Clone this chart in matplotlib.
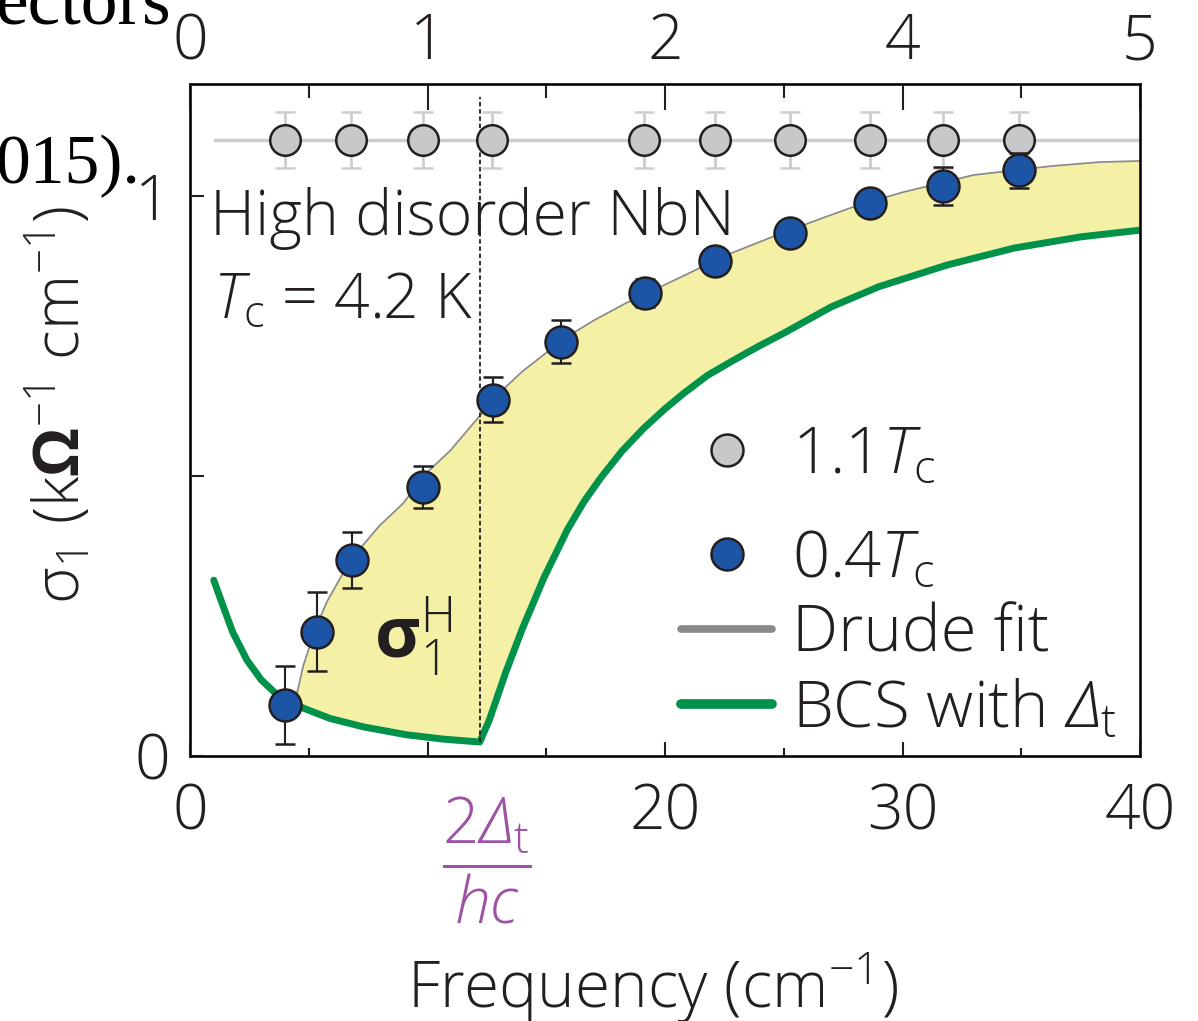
import numpy as np
import matplotlib
matplotlib.use("Agg")
import matplotlib.pyplot as plt
from matplotlib.lines import Line2D

# 0.4 Tc (superconducting) data points
freq_sc = [4.0, 5.33, 6.81, 9.82, 12.74, 15.62, 19.16, 22.1, 25.26, 28.63, 31.72, 34.92]
sigma_sc = [0.091, 0.222, 0.35, 0.48, 0.636, 0.74, 0.826, 0.884, 0.934, 0.987, 1.018, 1.046]
err_sc = [0.069, 0.07, 0.05, 0.038, 0.04, 0.039, 0.025, 0.015, 0.01, 0.01, 0.034, 0.031]

# 1.1 Tc (normal state) data points
freq_n = [4.0, 6.78, 9.82, 12.73, 19.1, 22.1, 25.26, 28.63, 31.7, 34.9]
sigma_n = [1.10, 1.10, 1.10, 1.10, 1.10, 1.10, 1.10, 1.10, 1.10, 1.10]
err_n = [0.05, 0.05, 0.05, 0.05, 0.05, 0.05, 0.05, 0.05, 0.05, 0.05]
normal_x = [1.05, 40.0]
normal_y = [1.10, 1.10]

# Drude fit (upper edge of shaded region)
drude_x = [4.45, 4.8, 5.3, 5.8, 6.4, 7.0, 8.0, 9.0, 10.0, 11.0, 12.0, 13.0, 14.0, 15.0,
           16.0, 17.0, 18.4, 20.5, 22.6, 24.5, 26.5, 28.0, 30.0, 33.0, 36.3, 38.3, 40.0]
drude_y = [0.095, 0.16, 0.225, 0.275, 0.32, 0.36, 0.41, 0.45, 0.505, 0.545, 0.595, 0.645,
           0.685, 0.718, 0.75, 0.776, 0.808, 0.85, 0.893, 0.925, 0.957, 0.98, 1.005, 1.036,
           1.052, 1.059, 1.061]

# BCS curve with Delta_t
bcs_x = [1.0, 1.4, 1.8, 2.4, 3.0, 3.65, 4.2, 4.45, 4.8, 5.9, 7.3, 9.1, 10.7, 12.2, 12.6, 13.3,
         14.0, 14.9, 15.9, 16.6, 17.3, 18.2, 19.1, 20.0, 20.8, 21.8, 22.9, 24.0, 25.0, 27.0,
         29.0, 31.9, 34.7, 37.5, 40.0]
bcs_y = [0.314, 0.267, 0.221, 0.171, 0.136, 0.110, 0.097, 0.092, 0.085, 0.067, 0.052, 0.038,
         0.030, 0.025, 0.064, 0.150, 0.228, 0.318, 0.405, 0.455, 0.497, 0.545, 0.585, 0.62,
         0.648, 0.68, 0.707, 0.733, 0.755, 0.802, 0.838, 0.877, 0.907, 0.927, 0.939]

gap = 12.2
gap_top = 1.177

top_ticks = [0, 10, 20, 30, 40]
top_labels = ["0", "1", "2", "4", "5"]
bottom_ticks = [0, 10, 20, 30, 40]
bottom_labels = ["0", "", "20", "30", "40"]

plt.rcParams["font.family"] = ["Open Sans", "DejaVu Sans"]
plt.rcParams["font.weight"] = "light"
plt.rcParams["mathtext.fontset"] = "custom"
plt.rcParams["mathtext.rm"] = "Open Sans:light"
plt.rcParams["mathtext.it"] = "Open Sans:italic:light"
plt.rcParams["mathtext.sf"] = "Open Sans:italic:light"
plt.rcParams["mathtext.bf"] = "Open Sans:bold"
plt.rcParams["text.color"] = "#231f20"

blue = "#1d55a6"
grey_pt = "#c8c8ca"
grey_light = "#cdcdcd"
green = "#00914a"
yellow = "#f4f0a6"
drude_col = "#8a8a8c"
purple = "#9c54a2"
ink = "#231f20"

fig = plt.figure(figsize=(11.98, 10.21), dpi=100)
ax = fig.add_axes([190 / 1198, 1 - 756 / 1021, 950 / 1198, 672 / 1021])

# shaded region between Drude and BCS
keep = [i for i, v in enumerate(bcs_x) if v >= drude_x[0]]
poly_x = list(drude_x) + [bcs_x[i] for i in keep[::-1]]
poly_y = list(drude_y) + [bcs_y[i] for i in keep[::-1]]
ax.plot(drude_x, drude_y, color=drude_col, lw=2.5, zorder=1)
ax.fill(poly_x, poly_y, color=yellow, lw=0, zorder=1.5)

ax.plot(bcs_x, bcs_y, color=green, lw=5, solid_capstyle="round", solid_joinstyle="round",
        zorder=2)
ax.vlines(gap, bcs_y[bcs_x.index(gap)], gap_top, colors=ink, linestyles=(0, (2.5, 1.5)),
          lw=1.3, zorder=2.5)

ax.plot(normal_x, normal_y, color=grey_light, lw=2.5, zorder=2)
ax.errorbar(freq_n, sigma_n, yerr=err_n, fmt="o", ms=22, mfc=grey_pt, mec=ink, mew=1.8,
            ecolor=grey_light, elinewidth=2, capsize=7, capthick=2, zorder=3)
ax.errorbar(freq_sc, sigma_sc, yerr=err_sc, fmt="o", ms=23, mfc=blue, mec=ink, mew=1.8,
            ecolor=ink, elinewidth=1.5, capsize=7, capthick=1.5, zorder=4)

ax.set_xlim(0, 40)
ax.set_ylim(0, 1.2)
ax.set_xticks(bottom_ticks)
ax.set_xticklabels(bottom_labels)
ax.set_xticks([5, 15, 25, 35], minor=True)
ax.set_yticks([0, 0.5, 1])
ax.set_yticklabels(["0", "", "1"])
ax.tick_params(which="both", direction="in", width=1.5, colors=ink, labelsize=45)
ax.tick_params(axis="x", which="major", length=10, pad=18)
ax.tick_params(axis="x", which="minor", length=6)
ax.tick_params(axis="y", which="major", length=10, pad=14)
for s in ax.spines.values():
    s.set_linewidth(2)
    s.set_color(ink)

ax2 = ax.twiny()
ax2.set_xlim(0, 40)
ax2.set_xticks(top_ticks)
ax2.set_xticklabels(top_labels)
ax2.set_xticks([5, 15, 25, 35], minor=True)
ax2.tick_params(which="both", direction="in", width=1.5, colors=ink, labelsize=45)
ax2.tick_params(which="major", length=19, pad=7)
ax2.tick_params(which="minor", length=10)

ax.text(0.84, 0.93, "High disorder NbN", fontsize=45, va="baseline", ha="left")
ax.text(0.96, 0.782, r"$T_{\rm c}$ = 4.2 K", fontsize=45, va="baseline", ha="left")
ax.text(9.4, 0.214, r"$\mathbf{\sigma}_1^{\rm H}$", fontsize=50, ha="center", va="center")
ax.text(12.5, -0.185, r"$\dfrac{2\mathsf{\Delta}_{\rm t}}{hc}$", fontsize=46, color=purple,
        ha="center", va="center", clip_on=False)

marker_handles = [
    Line2D([], [], ls="none", marker="o", ms=23, mfc=grey_pt, mec=ink, mew=1.8),
]
line_handles = [
    Line2D([], [], ls="none", marker="o", ms=23, mfc=blue, mec=ink, mew=1.8),
    Line2D([], [], color=drude_col, lw=5.5, solid_capstyle="round"),
    Line2D([], [], color=green, lw=7, solid_capstyle="round"),
]
leg_kw = dict(frameon=False, fontsize=47, handlelength=1.4, handletextpad=0.3,
              labelspacing=0.15, borderpad=0, borderaxespad=0)
leg1 = ax.legend(marker_handles, [r"1.1$T_{\rm c}$"], loc="center left",
                 bbox_to_anchor=(491 / 950, 300 / 672), **leg_kw)
ax.add_artist(leg1)
ax.legend(line_handles, [r"0.4$T_{\rm c}$", "Drude fit", r"BCS with $\mathsf{\Delta}_{\rm t}$"],
          loc="lower left", bbox_to_anchor=(491 / 950, 0.02), **leg_kw)

fig.text(652 / 1198, 1 - 1008 / 1021, r"Frequency (cm$^{-1}$)", fontsize=46,
         ha="center", va="baseline")
fig.text(60 / 1198, 1 - 405 / 1021, r"$\mathrm{\sigma}_1$ (k$\mathbf{\Omega}^{-1}$ cm$^{-1}$)",
         fontsize=45, rotation=90, ha="center", va="center")

fig.text(-0.004, 1 - 24 / 1021, "ectors", family="Liberation Serif", fontsize=53,
         fontweight="normal", va="baseline", ha="left", color="black")
fig.text(-0.004, 1 - 183 / 1021, "015).", family="Liberation Serif", fontsize=50,
         fontweight="normal", va="baseline", ha="left", color="black")

fig.savefig("out.png", dpi=100)
